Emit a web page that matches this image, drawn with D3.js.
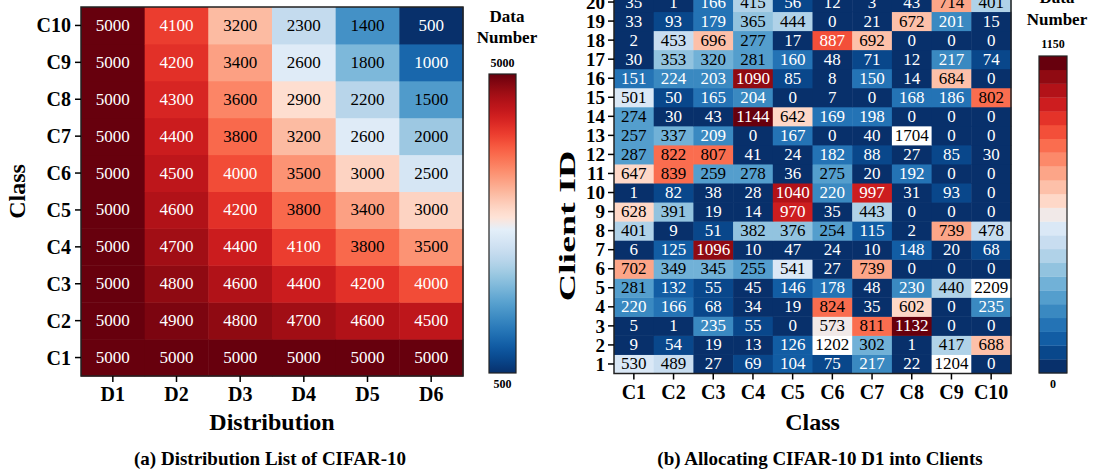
<!DOCTYPE html>
<html><head><meta charset="utf-8">
<script src="https://cdn.jsdelivr.net/npm/d3@7"></script>
<style>
body{margin:0;background:#fff;}
svg{display:block;font-family:"Liberation Serif","Times New Roman",serif;}
</style></head>
<body>
<svg id="chart" width="1094" height="472"></svg>
<script>
// ---------- data ----------
const classes = ["C1","C2","C3","C4","C5","C6","C7","C8","C9","C10"];
const distributions = ["D1","D2","D3","D4","D5","D6"];
// distList[d][c] : distribution d, class c (C1..C10)
const distD1 = [5000,5000,5000,5000,5000,5000,5000,5000,5000,5000];
const distD2 = [5000,4900,4800,4700,4600,4500,4400,4300,4200,4100];
const distD3 = [5000,4800,4600,4400,4200,4000,3800,3600,3400,3200];
const distD4 = [5000,4700,4400,4100,3800,3500,3200,2900,2600,2300];
const distD5 = [5000,4600,4200,3800,3400,3000,2600,2200,1800,1400];
const distD6 = [5000,4500,4000,3500,3000,2500,2000,1500,1000,500];
const distList = [distD1,distD2,distD3,distD4,distD5,distD6];

const clients = d3.range(1,21).map(String);
// clientData[i] : client i+1, values for C1..C10
const clientData = [
  [530,489,27,69,104,75,217,22,1204,0],
  [9,54,19,13,126,1202,302,1,417,688],
  [5,1,235,55,0,573,811,1132,0,0],
  [220,166,68,34,19,824,35,602,0,235],
  [281,132,55,45,146,178,48,230,440,2209],
  [702,349,345,255,541,27,739,0,0,0],
  [6,125,1096,10,47,24,10,148,20,68],
  [401,9,51,382,376,254,115,2,739,478],
  [628,391,19,14,970,35,443,0,0,0],
  [1,82,38,28,1040,220,997,31,93,0],
  [647,839,259,278,36,275,20,192,0,0],
  [287,822,807,41,24,182,88,27,85,30],
  [257,337,209,0,167,0,40,1704,0,0],
  [274,30,43,1144,642,169,198,0,0,0],
  [501,50,165,204,0,7,0,168,186,802],
  [151,224,203,1090,85,8,150,14,684,0],
  [30,353,320,281,160,48,71,12,217,74],
  [2,453,696,277,17,887,692,0,0,0],
  [33,93,179,365,444,0,21,672,201,15],
  [35,1,166,415,56,12,3,43,714,401]
];
const leftRange = [500,5000];
const rightRange = [0,1150];
const rightStep = 50;

// ---------- colour map (Blues reversed -> Reds) ----------
function cmap(t){
  t = Math.max(0,Math.min(1,t));
  if (t < 0.5) { const s = (0.5-t)*2; return d3.interpolateBlues(0.06+0.94*s); }
  if (t > 0.5) { const s = (t-0.5)*2; return d3.interpolateReds(0.06+0.94*s); }
  return d3.interpolateRgb(d3.interpolateBlues(0.1), d3.interpolateReds(0.1))(0.5);
}

const svg = d3.select("#chart");
svg.append("rect").attr("width",1094).attr("height",472).attr("fill","#fff");

// ---------- left chart ----------
const L = {x0:81,x1:463,y0:7,y1:376};
const lx = d3.scaleBand().domain(distributions).range([L.x0,L.x1]);
const ly = d3.scaleBand().domain(classes.slice().reverse()).range([L.y0,L.y1]);
const lnorm = d3.scaleLinear().domain(leftRange).range([0,1]);
const gL = svg.append("g");
distributions.forEach((d,di)=>{
  classes.forEach((c,ci)=>{
    const v = distList[di][ci];
    gL.append("rect").attr("x",lx(d)).attr("y",ly(c))
      .attr("width",lx.bandwidth()+0.5).attr("height",ly.bandwidth()+0.5)
      .attr("fill",cmap(lnorm(v)));
    gL.append("text").attr("x",lx(d)+lx.bandwidth()/2).attr("y",ly(c)+ly.bandwidth()/2)
      .attr("text-anchor","middle").attr("dominant-baseline","central")
      .attr("font-size",17).attr("fill",(v>=4000||v<=1000)?"#fff":"#000").text(v);
  });
});
gL.append("rect").attr("x",L.x0).attr("y",L.y0).attr("width",L.x1-L.x0).attr("height",L.y1-L.y0)
  .attr("fill","none").attr("stroke","#222").attr("stroke-width",1.5);

function styleAxis(g,size){
  g.select(".domain").remove();
  g.selectAll(".tick line").attr("stroke","#000").attr("stroke-width",1.5);
  g.selectAll(".tick text").attr("font-family","Liberation Serif").attr("font-weight","bold")
    .attr("font-size",size).attr("fill","#000");
}
const axLB = svg.append("g").attr("transform",`translate(0,${L.y1})`)
  .call(d3.axisBottom(lx).tickSize(6).tickPadding(5));
styleAxis(axLB,20);
const axLL = svg.append("g").attr("transform",`translate(${L.x0},0)`)
  .call(d3.axisLeft(ly).tickSize(6).tickPadding(4));
styleAxis(axLL,20);
axLL.selectAll(".tick text").attr("dy","0.35em");

svg.append("text").attr("x",(L.x0+L.x1)/2).attr("y",430).attr("text-anchor","middle")
  .attr("font-weight","bold").attr("font-size",24).text("Distribution");
svg.append("text").attr("transform",`translate(25,${(L.y0+L.y1)/2}) rotate(-90)`)
  .attr("text-anchor","middle").attr("font-weight","bold").attr("font-size",24).text("Class");
svg.append("text").attr("x",270).attr("y",465).attr("text-anchor","middle")
  .attr("font-weight","bold").attr("font-size",19).text("(a) Distribution List of CIFAR-10");

// left colorbar (continuous)
const CBL = {x:489,w:27,y0:74,y1:373};
const defs = svg.append("defs");
const grad = defs.append("linearGradient").attr("id","gradL").attr("x1",0).attr("y1",1).attr("x2",0).attr("y2",0);
d3.range(0,1.0001,0.02).forEach(t=>grad.append("stop").attr("offset",t).attr("stop-color",cmap(t)));
svg.append("rect").attr("x",CBL.x).attr("y",CBL.y0).attr("width",CBL.w).attr("height",CBL.y1-CBL.y0)
  .attr("fill","url(#gradL)").attr("stroke","#222").attr("stroke-width",1.2);
svg.append("text").attr("x",CBL.x+CBL.w/2).attr("y",67).attr("text-anchor","middle")
  .attr("font-weight","bold").attr("font-size",12).text(leftRange[1]);
svg.append("text").attr("x",CBL.x+CBL.w/2).attr("y",388).attr("text-anchor","middle")
  .attr("font-weight","bold").attr("font-size",12).text(leftRange[0]);
svg.append("text").attr("x",507).attr("y",22).attr("text-anchor","middle")
  .attr("font-weight","bold").attr("font-size",17).text("Data");
svg.append("text").attr("x",507).attr("y",43).attr("text-anchor","middle")
  .attr("font-weight","bold").attr("font-size",17).text("Number");

// ---------- right chart ----------
const R = {x0:614,x1:1011,y0:-7.5,y1:373.5};
const rx = d3.scaleBand().domain(classes).range([R.x0,R.x1]);
const ry = d3.scaleBand().domain(clients.slice().reverse()).range([R.y0,R.y1]);
const nBins = (rightRange[1]-rightRange[0])/rightStep; // 23 levels -> indices 0..22
function rColor(v){
  if (v > rightRange[1]) return "#ffffff";
  const b = Math.min(nBins-1, Math.floor(v/rightStep));
  return cmap(b/(nBins-1));
}
const gR = svg.append("g");
clients.forEach((cl,i)=>{
  classes.forEach((c,j)=>{
    const v = clientData[i][j];
    gR.append("rect").attr("x",rx(c)).attr("y",ry(cl))
      .attr("width",rx.bandwidth()+0.5).attr("height",ry.bandwidth()+0.5).attr("fill",rColor(v));
    const white = v < 250 || (v >= 850 && v <= rightRange[1]);
    gR.append("text").attr("x",rx(c)+rx.bandwidth()/2).attr("y",ry(cl)+ry.bandwidth()/2)
      .attr("text-anchor","middle").attr("dominant-baseline","central")
      .attr("font-size",17).attr("fill",white?"#fff":"#000").text(v);
  });
});
gR.append("rect").attr("x",R.x0).attr("y",R.y0).attr("width",R.x1-R.x0).attr("height",R.y1-R.y0)
  .attr("fill","none").attr("stroke","#222").attr("stroke-width",1.5);
const axRB = svg.append("g").attr("transform",`translate(0,${R.y1})`)
  .call(d3.axisBottom(rx).tickSize(6).tickPadding(5));
styleAxis(axRB,20);
const axRL = svg.append("g").attr("transform",`translate(${R.x0},0)`)
  .call(d3.axisLeft(ry).tickSize(6).tickPadding(3));
styleAxis(axRL,19);
axRL.selectAll(".tick text").attr("dy","0.35em");

svg.append("text").attr("x",(R.x0+R.x1)/2).attr("y",430).attr("text-anchor","middle")
  .attr("font-weight","bold").attr("font-size",24).text("Class");
svg.append("text").attr("transform",`translate(575,226) rotate(-90) scale(1.65,1)`)
  .attr("text-anchor","middle").attr("font-weight","bold").attr("font-size",23).text("Client ID");
svg.append("text").attr("x",820).attr("y",465).attr("text-anchor","middle")
  .attr("font-weight","bold").attr("font-size",19).text("(b) Allocating CIFAR-10 D1 into Clients");

// right colorbar (discrete)
const CBR = {x:1039,w:28,y0:56,y1:373};
const cbs = d3.scaleLinear().domain(rightRange).range([CBR.y1,CBR.y0]);
d3.range(nBins).forEach(b=>{
  svg.append("rect").attr("x",CBR.x).attr("y",cbs((b+1)*rightStep))
    .attr("width",CBR.w).attr("height",cbs(b*rightStep)-cbs((b+1)*rightStep)+0.3)
    .attr("fill",cmap(b/(nBins-1)));
});
svg.append("rect").attr("x",CBR.x).attr("y",CBR.y0).attr("width",CBR.w).attr("height",CBR.y1-CBR.y0)
  .attr("fill","none").attr("stroke","#222").attr("stroke-width",1.2);
svg.append("text").attr("x",CBR.x+CBR.w/2).attr("y",48).attr("text-anchor","middle")
  .attr("font-weight","bold").attr("font-size",12).text(rightRange[1]);
svg.append("text").attr("x",CBR.x+CBR.w/2).attr("y",388).attr("text-anchor","middle")
  .attr("font-weight","bold").attr("font-size",12).text(rightRange[0]);
svg.append("text").attr("x",1057).attr("y",3).attr("text-anchor","middle")
  .attr("font-weight","bold").attr("font-size",17).text("Data");
svg.append("text").attr("x",1057).attr("y",25).attr("text-anchor","middle")
  .attr("font-weight","bold").attr("font-size",17).text("Number");
</script>
</body></html>
